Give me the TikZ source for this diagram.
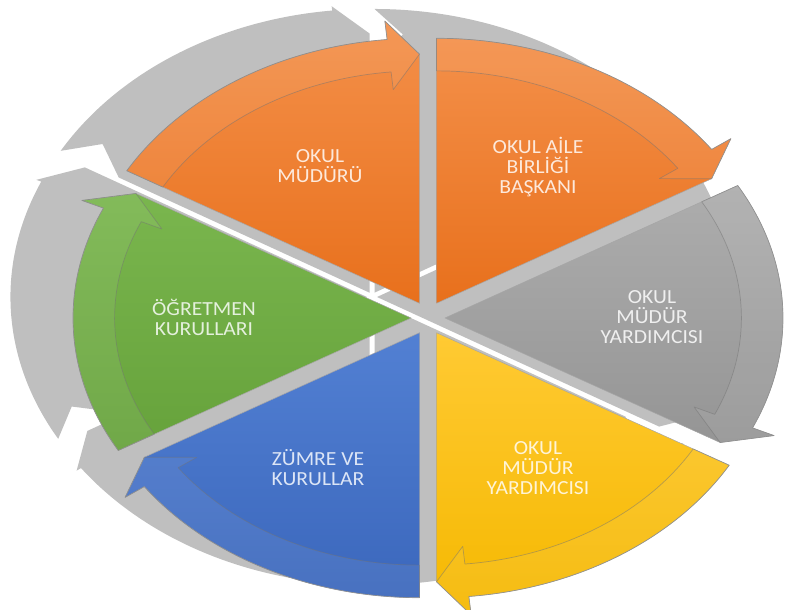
\documentclass[tikz,border=0pt]{standalone}
\usepackage{fontspec}
\newfontfamily\segfont[FakeStretch=1.08]{Carlito}
\definecolor{ringgray}{HTML}{BFBFBF}
\definecolor{oratop}{HTML}{F4904A}
\definecolor{orabot}{HTML}{E8701C}
\definecolor{gratop}{HTML}{ADADAD}
\definecolor{grabot}{HTML}{959595}
\definecolor{yeltop}{HTML}{FFCA33}
\definecolor{yelbot}{HTML}{F5B800}
\definecolor{blutop}{HTML}{5280D3}
\definecolor{blubot}{HTML}{3B67BC}
\definecolor{gretop}{HTML}{7AB64E}
\definecolor{grebot}{HTML}{66A23B}

\begin{document}
\begin{tikzpicture}[x=1pt, y=1pt,
        ringpiece/.style={fill=ringgray},
        segment/.style={draw=black!35, line width=.5pt, line join=round},
        band/.style={fill=white, fill opacity=.07, draw=black!55, draw opacity=.5, line width=.7pt, line join=round},
        seglabel/.style={font=\segfont\fontsize{20}{20}\selectfont, align=center, text=#1}
    ]
    \useasboundingbox (0,0) rectangle (785,610);

    % gray ring of arrows behind the cycle
    \foreach \a in {150,90,30,-30,-90,-150}{
        \begin{scope}[shift={(372,313)}, shift={(\a-30:5)}, xscale=362, yscale=288]
            \path[ringpiece] (0,0) -- (\a:.8) -- (\a-5:.9) -- (\a:.985)
                arc[start angle=\a, end angle=\a-54, radius=.985]
                -- (\a-54:1) -- (\a-60:.9) -- cycle;
        \end{scope}
    }

    % coloured segments with their arrows
    \foreach \a/\tc/\bc in {150/oratop/orabot, 90/oratop/orabot, 30/gratop/grabot, -30/yeltop/yelbot, -90/blutop/blubot, -150/gretop/grebot}{
        \begin{scope}[shift={(428,292)}, shift={(\a-30:17)}, xscale=338, yscale=265]
            \path[segment, top color=\tc, bottom color=\bc] (0,0) -- (\a:1)
                arc[start angle=\a, end angle=\a-54.5, radius=1]
                -- (\a-54.5:1.07) -- (\a-60:.94) -- cycle;
            \path[band] (\a:1)
                arc[start angle=\a, end angle=\a-54.5, radius=1]
                -- (\a-54.5:1.07) -- (\a-60:.94) -- (\a-54.5:.81) -- (\a-54.5:.877)
                arc[start angle=\a-54.5, end angle=\a, radius=.877] -- cycle;
        \end{scope}
    }

    \node[seglabel=oratop!20!white] (mudur) at (320,444) {OKUL\\MÜDÜRÜ};
    \node[seglabel=oratop!20!white] (aile) at (538,443) {OKUL AİLE\\BİRLİĞİ\\BAŞKANI};
    \node[seglabel=gratop!20!white] (yardimci) at (652,293) {OKUL\\MÜDÜR\\YARDIMCISI};
    \node[seglabel=yeltop!20!white] (yardimciiki) at (538,142) {OKUL\\MÜDÜR\\YARDIMCISI};
    \node[seglabel=blutop!20!white] (zumre) at (318,142) {ZÜMRE VE\\KURULLAR};
    \node[seglabel=gretop!20!white] (ogretmen) at (204,293) {ÖĞRETMEN\\KURULLARI};
\end{tikzpicture}
\end{document}
